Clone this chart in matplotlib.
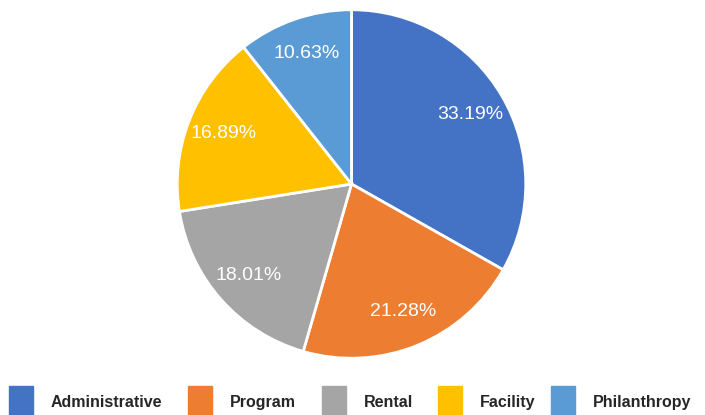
import matplotlib.pyplot as plt
from matplotlib.patches import Rectangle

categories = ["Administrative", "Program", "Rental", "Facility", "Philanthropy"]
shares = [33.19, 21.28, 18.01, 16.89, 10.63]
colors = ["#4472C4", "#ED7D31", "#A5A5A5", "#FFC000", "#5B9BD5"]

W, H = 705, 415
fig = plt.figure(figsize=(W / 100, H / 100), dpi=100)

# pie: center (351, 184), radius ~176 px
cx, cy, r = 351.5, 184, 176
ax = fig.add_axes([(cx - r) / W, 1 - (cy + r) / H, 2 * r / W, 2 * r / H])
ax.pie(shares, colors=colors, startangle=90, counterclock=False,
       autopct="%.2f%%", pctdistance=0.79, radius=1,
       wedgeprops=dict(edgecolor="white", linewidth=2),
       textprops=dict(color="white", fontsize=14, family="Liberation Sans"))
ax.set_xlim(-1.01, 1.01)
ax.set_ylim(-1.01, 1.01)
ax.set_aspect("equal")
ax.axis("off")

# legend along the bottom
legend_x = [9, 188, 322, 438, 551]
for x, lab, c in zip(legend_x, categories, colors):
    fig.patches.append(Rectangle((x / W, 0), 24 / W, 29 / H, color=c,
                                 transform=fig.transFigure, figure=fig))
    fig.text((x + 42) / W, 1 - 402 / H, lab, fontsize=11.5, fontweight="bold",
             color="#262626", va="center", ha="left", family="Liberation Sans")

fig.savefig("out.png", dpi=100)
